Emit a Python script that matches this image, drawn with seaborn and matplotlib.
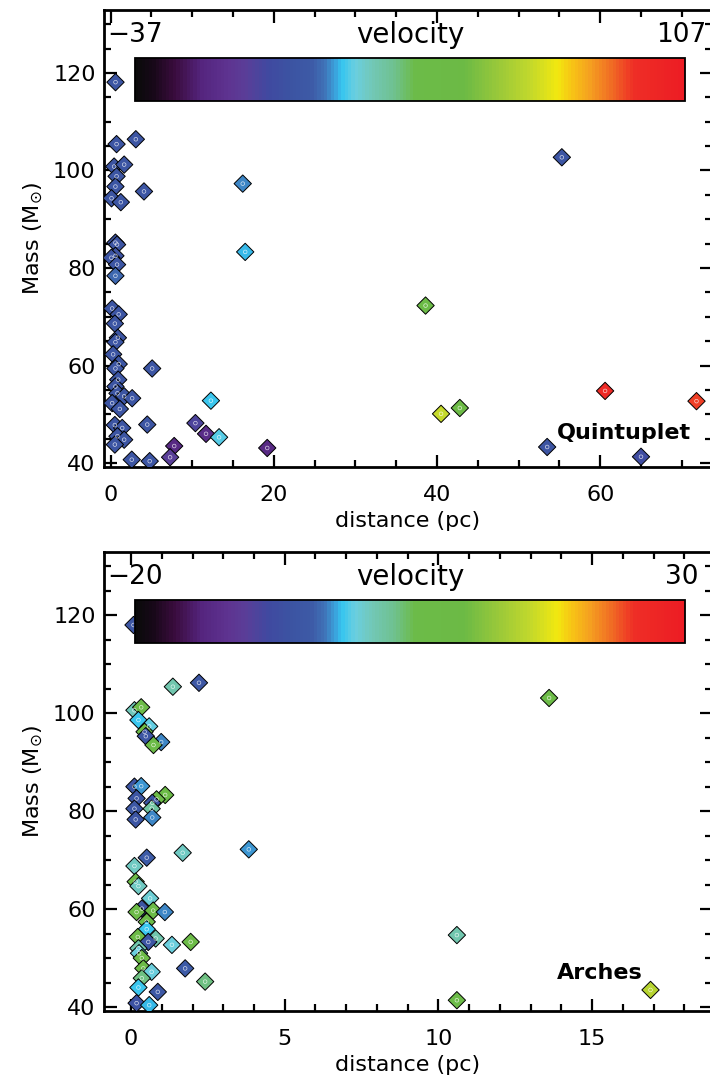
import numpy as np
import pandas as pd
import seaborn as sns
import matplotlib
matplotlib.use("Agg")
import matplotlib.pyplot as plt
from matplotlib.colors import LinearSegmentedColormap, Normalize
from matplotlib.cm import ScalarMappable
from matplotlib.ticker import MultipleLocator

# ---------------- data ----------------
quint_dist = [0.61, 0.74, 3.1, 0.44, 1.67, 0.74, 0.6, 4.1, 16.2, 0.12, 1.26,
              0.6, 0.8, 0.6, 0.1, 0.8, 0.6, 16.5,
              0.2, 1.0, 0.53, 0.9, 0.6, 0.32, 1.0, 0.6, 5.1, 0.94, 0.6, 0.85,
              0.2, 1.67, 2.65, 1.14, 12.3, 0.53, 1.43, 4.5, 10.4, 11.7, 13.3,
              0.85, 1.67, 0.53, 7.8, 19.2, 2.6, 4.8, 7.3,
              55.3, 38.6, 40.5, 42.8, 60.6, 71.8, 53.5, 65.0]
quint_mass = [118.1, 105.4, 106.4, 100.8, 101.2, 98.8, 96.7, 95.7, 97.3, 94.3, 93.5,
              85.2, 84.8, 82.5, 82.1, 80.7, 78.4, 83.3,
              71.7, 70.5, 68.6, 65.7, 64.8, 62.3, 60.3, 59.4, 59.4, 57.1, 55.7, 54.3,
              52.3, 53.7, 53.3, 51.1, 52.8, 47.8, 47.2, 47.9, 48.2, 46.0, 45.3,
              45.5, 44.8, 43.8, 43.5, 43.1, 40.7, 40.4, 41.2,
              102.7, 72.3, 50.1, 51.3, 54.8, 52.7, 43.3, 41.3]
quint_vel = [5, 5, 5, 4, 5, 5, 6, 5, 14, 5, 5,
             4, 4, 3, 4, 5, 11, 16.5,
             5, 5, 5, 5, 5, 5, 5, 5, 5, 5, 5, 5,
             5, 5, 5, 5, 17, 5, 5, 5, -5, -16, 19,
             5, 5, 5, -18, -18, 5, 5, -8,
             5, 42, 67, 45, 97, 92, 4, -1]

arch_dist = [0.08, 1.36, 2.21, 0.11, 0.33, 0.24, 0.59, 0.44, 0.48, 0.98, 0.73,
             0.11, 0.33, 0.18, 1.11, 0.83, 0.69, 0.67, 0.11, 0.15, 0.69,
             1.68, 3.83, 0.51, 0.11, 0.15, 0.24, 0.62, 0.35, 0.18, 0.72, 1.1,
             0.51, 0.51, 0.22, 0.8, 0.56, 1.33, 1.94, 0.24, 0.26, 0.35, 0.4,
             0.67, 1.76, 2.41, 0.35, 0.24, 0.87, 0.18, 0.59,
             13.6, 10.6, 10.6, 16.9]
arch_mass = [118.0, 105.4, 106.2, 100.6, 101.2, 98.6, 97.3, 96.2, 95.3, 94.1, 93.5,
             85.0, 85.1, 82.6, 83.3, 82.4, 81.7, 80.5, 80.5, 78.3, 78.7,
             71.5, 72.2, 70.5, 68.8, 65.6, 64.7, 62.2, 60.1, 59.4, 59.7, 59.4,
             57.4, 55.9, 54.3, 54.0, 53.3, 52.7, 53.3, 52.0, 51.0, 50.0, 47.9,
             47.2, 47.9, 45.2, 45.9, 44.0, 43.1, 40.8, 40.4,
             103.1, 54.7, 41.4, 43.5]
arch_vel = [-5, 2, -5, 1.5, 7.5, -1.2, -0.3, 7, -5.5, -2.5, 7.5,
            -5.5, -2, -5.5, 7, 6, -5.5, 2.5, -4.5, -5.5, -2.5,
            1, -2, -4, 1, 7, 1, 0.5, -5.5, 7, 7.5, -2.5,
            6, -1, 7, 2, -5.5, 0, 7.5, 2, 0, 7, 7,
            0, -4, 4, 4, -1.2, -4.5, -6, -1.5,
            7.5, 2, 6, 15]

quint_vrange = [-37, 107]
arch_vrange = [-20, 30]

# ---------------- colormap ----------------
cmap_nodes = [
    (0.00, "#0a0a0a"), (0.03, "#170818"), (0.07, "#3a0c3e"), (0.12, "#55257f"),
    (0.17, "#5e3491"), (0.20, "#5a3e98"), (0.24, "#4049a0"), (0.28, "#3c53a2"),
    (0.32, "#3d5aa6"), (0.345, "#3f74b8"), (0.365, "#3aa6de"), (0.375, "#35c5f0"),
    (0.40, "#6acfe0"), (0.43, "#72c8b8"), (0.47, "#6fc190"), (0.51, "#6cbb48"),
    (0.60, "#6cba45"), (0.66, "#98c83a"), (0.72, "#c2d82c"), (0.77, "#f2e80f"),
    (0.80, "#f7c016"), (0.83, "#f5a020"), (0.87, "#f06a24"), (0.91, "#ee2e26"),
    (1.00, "#ed1c24")]
cmap = LinearSegmentedColormap.from_list("idl_rainbow", cmap_nodes, N=160)

sns.set_theme(style="ticks")
plt.rcParams["font.family"] = ["DejaVu Sans"]
plt.rcParams["mathtext.fontset"] = "dejavusans"
plt.rcParams["text.color"] = "black"
plt.rcParams["axes.labelcolor"] = "black"
plt.rcParams["xtick.color"] = "black"
plt.rcParams["ytick.color"] = "black"

fig = plt.figure(figsize=(7.1, 10.84), dpi=100)
ax1 = fig.add_axes([104 / 710, 1 - 467 / 1084, 608 / 710, 457 / 1084])
ax2 = fig.add_axes([104 / 710, 1 - 1011 / 1084, 608 / 710, 459 / 1084])


def panel(ax, dist, mass, vel, vr, xlim, xmaj, xmin_, name, name_xy):
    df = pd.DataFrame({"dist": dist, "mass": mass, "vel": vel})
    sns.scatterplot(data=df, x="dist", y="mass", hue="vel", palette=cmap,
                    hue_norm=(vr[0], vr[1]), marker="D", s=78, edgecolor="black",
                    linewidth=0.7, legend=False, ax=ax, zorder=3)
    ax.scatter(df["dist"], df["mass"], marker="o", s=7, facecolors="none",
               edgecolors="white", linewidths=0.5, alpha=0.75, zorder=4)
    ax.set_xlim(*xlim)
    ax.set_ylim(39.2, 132.9)
    ax.xaxis.set_major_locator(MultipleLocator(xmaj))
    ax.xaxis.set_minor_locator(MultipleLocator(xmin_))
    ax.yaxis.set_major_locator(MultipleLocator(20))
    ax.yaxis.set_minor_locator(MultipleLocator(5))
    ax.tick_params(which="both", direction="in", top=True, right=True,
                   labelsize=16, width=1.6, colors="black")
    ax.tick_params(axis="x", which="both", pad=13)
    ax.tick_params(axis="y", which="both", pad=6)
    ax.tick_params(which="major", length=9)
    ax.tick_params(which="minor", length=5)
    for sp in ax.spines.values():
        sp.set_linewidth(2.0)
        sp.set_color("black")
    ax.set_xlabel("distance (pc)", fontsize=16, labelpad=4, color="black")
    ax.set_ylabel(r"Mass (M$_{\odot}$)", fontsize=16, labelpad=6, color="black")
    ax.text(name_xy[0], name_xy[1], name, transform=ax.transAxes, fontsize=16,
            fontweight="bold", ha="center", va="center", color="black")
    # colorbar inset
    cax = ax.inset_axes([0.051, 0.801, 0.904, 0.094])
    cax.set_zorder(6)
    sm = ScalarMappable(norm=Normalize(vr[0], vr[1]), cmap=cmap)
    cb = fig.colorbar(sm, cax=cax, orientation="horizontal")
    cb.set_ticks([])
    cb.outline.set_linewidth(1.3)
    cb.outline.set_edgecolor("black")
    ax.text(0.051, 0.945, "\u2212" + str(abs(vr[0])), transform=ax.transAxes,
            fontsize=19, ha="center", va="center", color="black")
    ax.text(0.503, 0.945, "velocity", transform=ax.transAxes,
            fontsize=20, ha="center", va="center", color="black")
    ax.text(0.950, 0.945, str(vr[1]), transform=ax.transAxes,
            fontsize=19, ha="center", va="center", color="black")


panel(ax1, quint_dist, quint_mass, quint_vel, quint_vrange, (-0.8, 73.7), 20, 5,
      "Quintuplet", (0.855, 0.075))
panel(ax2, arch_dist, arch_mass, arch_vel, arch_vrange, (-0.88, 18.9), 5, 1,
      "Arches", (0.815, 0.082))

fig.savefig("out.png", dpi=100)
